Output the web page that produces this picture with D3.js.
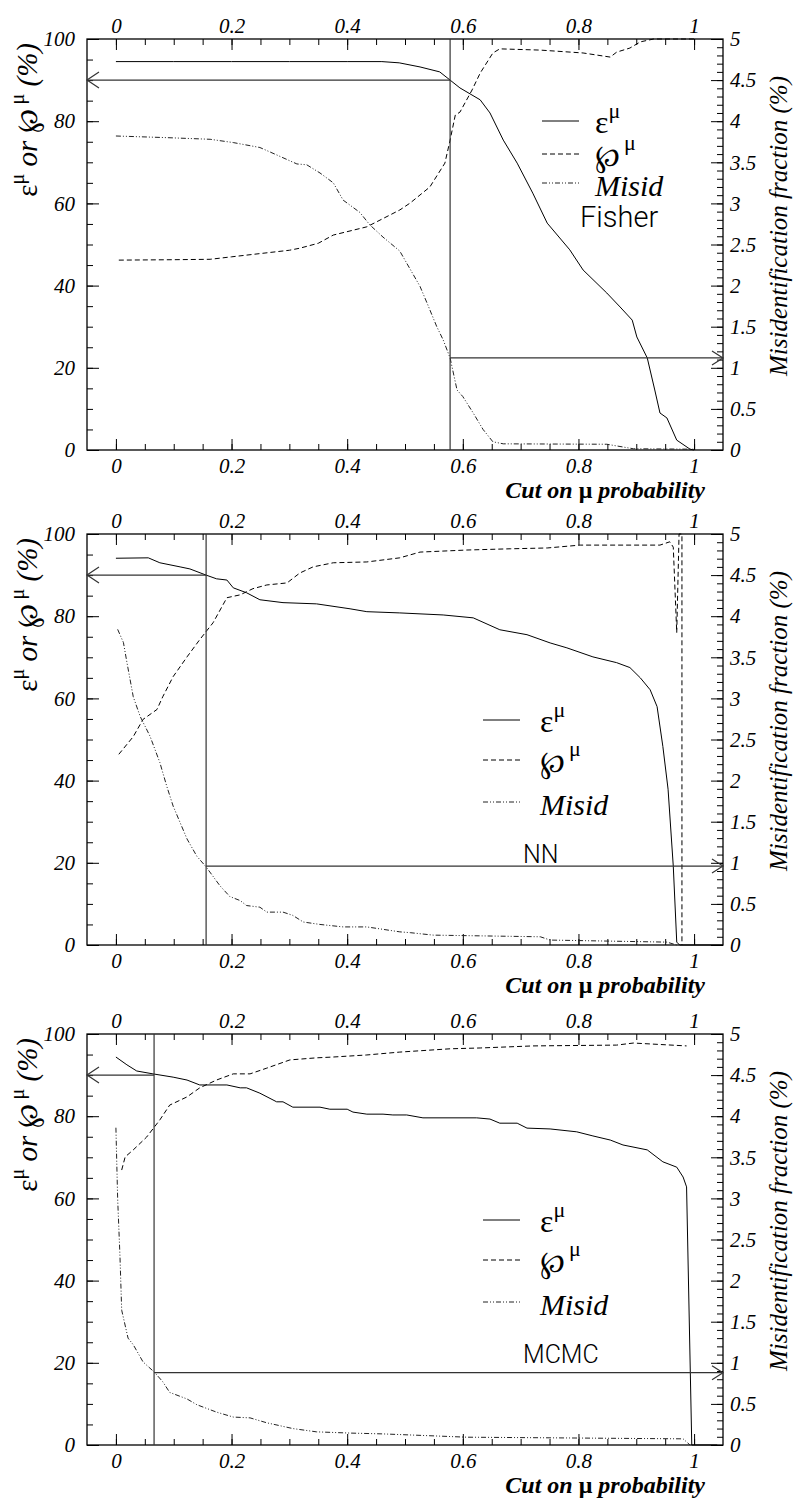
<!DOCTYPE html>
<html>
<head>
<meta charset="utf-8">
<title>mu id cut</title>
<script src="https://cdn.jsdelivr.net/npm/d3@7"></script>
<style>
  body { margin: 0; background: #fff; }
  .tick text { font-family: "Liberation Serif", "Times New Roman", serif; font-style: italic; font-size: 21px; fill: #000; }
  .tick line { stroke: #000; stroke-width: 1; }
  .frame { fill: none; stroke: #000; stroke-width: 1.3; }
  .curve { fill: none; stroke: #000; stroke-width: 1; }
  .eff { }
  .pur { stroke-dasharray: 5 3; }
  .mis { stroke-dasharray: 5 2 1 2 1 2; stroke: #222; }
  .guide { fill: none; stroke: #333; stroke-width: 1.2; }
  .serif { font-family: "Liberation Serif", "DejaVu Serif", serif; fill: #000; }
  .method { font-family: Roboto, "DejaVu Sans", sans-serif; font-weight: 300; fill: #000; }
</style>
</head>
<body>
<script>
// ---- data ----
const methods = ["Fisher", "NN", "MCMC"];
const cutValues = [0.578, 0.156, 0.066];     // chosen cut on mu probability
const effAtCut = [90, 90, 90];               // efficiency at the cut (%)
const misidAtCut = [1.12, 0.96, 0.88];       // misid fraction at the cut (%)
const xTicks = [0, 0.2, 0.4, 0.6, 0.8, 1];
const leftTicks = [0, 20, 40, 60, 80, 100];
const rightTicks = [0, 0.5, 1, 1.5, 2, 2.5, 3, 3.5, 4, 4.5, 5];

// Fisher
const fisherEffX = [0, 0.1, 0.2, 0.3, 0.4, 0.46, 0.49, 0.526, 0.56, 0.578, 0.595, 0.63, 0.647, 0.67, 0.694, 0.721, 0.746, 0.785, 0.808, 0.849, 0.872, 0.893, 0.901, 0.919, 0.932, 0.941, 0.953, 0.97, 0.993, 1.0];
const fisherEff  = [94.5, 94.5, 94.5, 94.5, 94.5, 94.5, 94.2, 93.2, 92, 90, 88.1, 85.2, 82, 75.4, 69.8, 62.5, 55.2, 48.7, 43.8, 38.2, 34.8, 31.6, 27.5, 22.4, 14.6, 9, 7.8, 2.4, 0.2, 0];
const fisherPurX = [0.005, 0.1, 0.163, 0.2, 0.25, 0.3, 0.318, 0.35, 0.376, 0.434, 0.491, 0.509, 0.543, 0.569, 0.578, 0.587, 0.595, 0.616, 0.63, 0.652, 0.664, 0.734, 0.808, 0.855, 0.866, 0.889, 0.907, 0.93, 1.0];
const fisherPur  = [46.2, 46.3, 46.4, 47, 47.8, 48.6, 49.1, 50.3, 52.3, 54.3, 58.4, 60.1, 64, 69.8, 75.4, 81.5, 82.2, 87.6, 91.7, 96.6, 97.6, 97.3, 96.6, 95.6, 96.8, 97.8, 99.3, 100, 100];
const fisherMisX = [0, 0.088, 0.163, 0.203, 0.249, 0.278, 0.313, 0.33, 0.353, 0.376, 0.393, 0.422, 0.439, 0.462, 0.491, 0.526, 0.538, 0.555, 0.566, 0.578, 0.59, 0.6, 0.618, 0.635, 0.652, 0.67, 0.849, 0.895, 1.0];
const fisherMis  = [3.82, 3.8, 3.78, 3.74, 3.68, 3.59, 3.48, 3.47, 3.37, 3.25, 3.04, 2.89, 2.74, 2.59, 2.42, 1.99, 1.79, 1.5, 1.34, 1.12, 0.73, 0.65, 0.45, 0.25, 0.1, 0.075, 0.07, 0.015, 0.01];

// NN
const nnEffX = [0, 0.056, 0.076, 0.111, 0.128, 0.156, 0.174, 0.192, 0.203, 0.226, 0.249, 0.289, 0.347, 0.405, 0.434, 0.491, 0.566, 0.618, 0.664, 0.711, 0.751, 0.78, 0.825, 0.866, 0.889, 0.907, 0.924, 0.936, 0.946, 0.955, 0.964, 0.97, 0.975, 1.05];
const nnEff  = [94.1, 94.2, 93, 92, 91.5, 90, 89.1, 88.8, 86.9, 85.7, 84, 83.3, 83, 81.8, 81.1, 80.8, 80.3, 79.6, 76.7, 75.5, 73.5, 72.3, 70.1, 68.7, 67.5, 65, 62.1, 58, 48.3, 37.9, 19.2, 0.7, 0, 0];
const nnPurX = [0.005, 0.03, 0.047, 0.071, 0.081, 0.099, 0.123, 0.145, 0.168, 0.192, 0.215, 0.237, 0.261, 0.296, 0.318, 0.341, 0.376, 0.434, 0.491, 0.526, 0.607, 0.682, 0.746, 0.803, 0.941, 0.958, 0.964, 0.97, 0.974, 0.979, 0.979];
const nnPur  = [46.4, 50.7, 54.9, 57.3, 60.4, 65.3, 70.1, 74.3, 78.4, 84.5, 85.2, 86.7, 87.6, 88.1, 90.5, 92, 93, 93.2, 94.2, 95.6, 96.1, 96.4, 96.6, 97.3, 97.3, 98.1, 96.8, 76, 100, 100, 0];
const nnMisX = [0.003, 0.013, 0.019, 0.03, 0.042, 0.059, 0.076, 0.088, 0.099, 0.123, 0.14, 0.156, 0.18, 0.197, 0.215, 0.226, 0.249, 0.261, 0.289, 0.306, 0.324, 0.353, 0.393, 0.434, 0.491, 0.509, 0.549, 0.734, 0.751, 0.953, 0.97];
const nnMis  = [3.84, 3.68, 3.44, 3.02, 2.78, 2.54, 2.22, 1.93, 1.69, 1.29, 1.08, 0.95, 0.72, 0.59, 0.54, 0.48, 0.46, 0.4, 0.4, 0.36, 0.28, 0.25, 0.22, 0.22, 0.16, 0.15, 0.12, 0.1, 0.06, 0.035, 0];

// MCMC
const mcmcEffX = [0, 0.019, 0.036, 0.064, 0.099, 0.123, 0.145, 0.192, 0.215, 0.226, 0.249, 0.278, 0.289, 0.306, 0.353, 0.37, 0.4, 0.41, 0.434, 0.462, 0.479, 0.503, 0.531, 0.624, 0.647, 0.664, 0.694, 0.711, 0.751, 0.797, 0.825, 0.855, 0.877, 0.919, 0.946, 0.97, 0.981, 0.987, 0.996, 1.04];
const mcmcEff  = [94.4, 92.5, 91, 90.3, 89.5, 88.8, 87.6, 87.6, 86.9, 86.9, 85.6, 83.5, 83.5, 82.2, 82.2, 81.7, 81.7, 81, 80.5, 80.5, 80.3, 80.3, 79.6, 79.6, 79.3, 78.3, 78.3, 77.1, 76.9, 76.2, 75.2, 74.2, 73, 71.8, 68.9, 67.6, 65.2, 62.8, 0, 0];
const mcmcPurX = [0.01, 0.016, 0.03, 0.053, 0.076, 0.093, 0.123, 0.145, 0.174, 0.203, 0.232, 0.261, 0.301, 0.347, 0.376, 0.434, 0.491, 0.578, 0.63, 0.721, 0.866, 0.895, 0.987];
const mcmcPur  = [66.9, 70.1, 71.8, 74.9, 79.1, 82.7, 84.7, 86.9, 88.8, 90.3, 90.3, 91.7, 93.7, 94.2, 94.4, 94.9, 95.6, 96.4, 96.6, 97.1, 97.3, 97.8, 97.1];
const mcmcMisX = [0.0, 0.003, 0.007, 0.01, 0.021, 0.03, 0.047, 0.066, 0.081, 0.093, 0.123, 0.14, 0.174, 0.203, 0.232, 0.261, 0.306, 0.347, 0.405, 0.462, 0.607, 0.981, 0.993];
const mcmcMis  = [3.86, 3.0, 2.3, 1.64, 1.3, 1.22, 1.01, 0.89, 0.77, 0.64, 0.56, 0.49, 0.4, 0.34, 0.33, 0.27, 0.2, 0.16, 0.145, 0.135, 0.095, 0.075, 0];

const panels = [
  { eff: d3.zip(fisherEffX, fisherEff), pur: d3.zip(fisherPurX, fisherPur), mis: d3.zip(fisherMisX, fisherMis) },
  { eff: d3.zip(nnEffX, nnEff), pur: d3.zip(nnPurX, nnPur), mis: d3.zip(nnMisX, nnMis) },
  { eff: d3.zip(mcmcEffX, mcmcEff), pur: d3.zip(mcmcPurX, mcmcPur), mis: d3.zip(mcmcMisX, mcmcMis) }
];

// ---- layout ----
const width = 795, height = 1499;
const left = 87, right = 723;
const panelTops = [39, 534, 1034];
const panelHeight = 411;
// legend placement per panel: line start x, text x, line ys relative to top, label baseline
const legendPos = [
  { x0: 542, tx: 595, ys: [82, 115, 144], labX: 580, labY: 188, labSize: 29 },
  { x0: 483, tx: 540, ys: [186, 226, 268], labX: 523, labY: 329, labSize: 25 },
  { x0: 483, tx: 540, ys: [186, 226, 268], labX: 523, labY: 329, labSize: 25 }
];

const svg = d3.select("body").append("svg")
  .attr("width", width)
  .attr("height", height);

const fmt = d => String(+d.toFixed(2));

function drawPanel(i) {
  const top = panelTops[i], bottom = top + panelHeight;
  const g = svg.append("g");

  const x = d3.scaleLinear().domain([-0.05, 1.05]).range([left, right]);
  const y = d3.scaleLinear().domain([0, 100]).range([bottom, top]);
  const y2 = d3.scaleLinear().domain([0, 5]).range([bottom, top]);

  const noDomain = s => s.select(".domain").remove();
  const xMinor = d3.range(0, 21).map(k => k * 0.05);
  const yMinor = d3.range(0, 21).map(k => k * 5);
  const y2Minor = d3.range(0, 51).map(k => k / 10);

  // bottom
  g.append("g").attr("transform", `translate(0,${bottom})`)
    .call(d3.axisBottom(x).tickValues(xMinor).tickSize(-6).tickFormat("")).call(noDomain);
  g.append("g").attr("transform", `translate(0,${bottom})`)
    .call(d3.axisBottom(x).tickValues(xTicks).tickSize(-11).tickPadding(8).tickFormat(fmt)).call(noDomain);
  // top
  g.append("g").attr("transform", `translate(0,${top})`)
    .call(d3.axisTop(x).tickValues(xMinor).tickSize(-6).tickFormat("")).call(noDomain);
  g.append("g").attr("transform", `translate(0,${top})`)
    .call(d3.axisTop(x).tickValues(xTicks).tickSize(-11).tickPadding(6).tickFormat(fmt)).call(noDomain);
  // left
  g.append("g").attr("transform", `translate(${left},0)`)
    .call(d3.axisLeft(y).tickValues(yMinor).tickSize(-6).tickFormat("")).call(noDomain);
  g.append("g").attr("transform", `translate(${left},0)`)
    .call(d3.axisLeft(y).tickValues(leftTicks).tickSize(-12).tickPadding(12).tickFormat(fmt)).call(noDomain);
  // right
  g.append("g").attr("transform", `translate(${right},0)`)
    .call(d3.axisRight(y2).tickValues(y2Minor).tickSize(-6).tickFormat("")).call(noDomain);
  g.append("g").attr("transform", `translate(${right},0)`)
    .call(d3.axisRight(y2).tickValues(rightTicks).tickSize(-12).tickPadding(7).tickFormat(fmt)).call(noDomain);

  g.append("rect").attr("class", "frame")
    .attr("x", left).attr("y", top)
    .attr("width", right - left).attr("height", bottom - top);

  // curves
  const line = d3.line().x(d => x(d[0])).y(d => y(d[1]));
  const line2 = d3.line().x(d => x(d[0])).y(d => y2(d[1]));
  g.append("path").attr("class", "curve eff").attr("d", line(panels[i].eff));
  g.append("path").attr("class", "curve pur").attr("d", line(panels[i].pur));
  g.append("path").attr("class", "curve mis").attr("d", line2(panels[i].mis));

  // cut guides with arrows
  const cx = x(cutValues[i]);
  const ey = y(effAtCut[i]);
  const my = y2(misidAtCut[i]);
  g.append("line").attr("class", "guide").attr("x1", cx).attr("x2", cx).attr("y1", top).attr("y2", bottom);
  g.append("line").attr("class", "guide").attr("x1", cx).attr("x2", left).attr("y1", ey).attr("y2", ey);
  g.append("path").attr("class", "guide").attr("d", `M${left + 12},${ey - 8}L${left},${ey}L${left + 12},${ey + 8}`);
  g.append("line").attr("class", "guide").attr("x1", cx).attr("x2", right).attr("y1", my).attr("y2", my);
  g.append("path").attr("class", "guide").attr("d", `M${right - 11},${my - 7}L${right},${my}L${right - 11},${my + 7}`);

  // legend
  const lp = legendPos[i];
  const cls = ["curve eff", "curve pur", "curve mis"];
  lp.ys.forEach((ly, k) => {
    g.append("line").attr("class", cls[k])
      .attr("x1", lp.x0).attr("x2", lp.x0 + 37)
      .attr("y1", top + ly).attr("y2", top + ly);
  });
  const t1 = g.append("text").attr("class", "serif").attr("x", lp.tx).attr("y", top + lp.ys[0] + 12).style("font-size", "32px");
  t1.append("tspan").text("ε");
  t1.append("tspan").attr("dy", -15).style("font-size", "22px").text("μ");
  const t2 = g.append("text").attr("class", "serif").attr("x", lp.tx).attr("y", top + lp.ys[1] + 12).style("font-size", "30px");
  t2.append("tspan").text("℘");
  t2.append("tspan").attr("dx", 4).attr("dy", -16).style("font-size", "22px").text("μ");
  g.append("text").attr("class", "serif").attr("x", lp.tx).attr("y", top + lp.ys[2] + 13)
    .style("font-size", "30px").style("font-style", "italic").text("Misid");
  g.append("text").attr("class", "method").attr("x", lp.labX).attr("y", top + lp.labY)
    .style("font-size", lp.labSize + "px").text(methods[i]);

  // axis titles
  const xt = g.append("text").attr("class", "serif")
    .attr("x", 705).attr("y", bottom + 48).attr("text-anchor", "end")
    .style("font-size", "24px").style("font-weight", "bold").style("font-style", "italic");
  xt.append("tspan").text("Cut on  ");
  xt.append("tspan").style("font-style", "normal").text("μ");
  xt.append("tspan").text(" probability");

  const lt = g.append("text").attr("class", "serif")
    .attr("transform", `translate(37,${top + 4}) rotate(-90)`)
    .attr("text-anchor", "end").style("font-size", "29px");
  lt.append("tspan").text("ε");
  lt.append("tspan").attr("dy", -13).style("font-size", "20px").text("μ");
  lt.append("tspan").attr("dy", 13).style("font-style", "italic").text(" or ");
  lt.append("tspan").text("℘");
  lt.append("tspan").attr("dy", -13).style("font-size", "20px").text(" μ");
  lt.append("tspan").attr("dy", 13).style("font-style", "italic").text(" (%)");

  g.append("text").attr("class", "serif")
    .attr("transform", `translate(787,${top + 37}) rotate(-90)`)
    .attr("text-anchor", "end").style("font-size", "25px").style("font-style", "italic")
    .text("Misidentification fraction (%)");
}

panels.forEach((p, i) => drawPanel(i));
</script>
</body>
</html>
